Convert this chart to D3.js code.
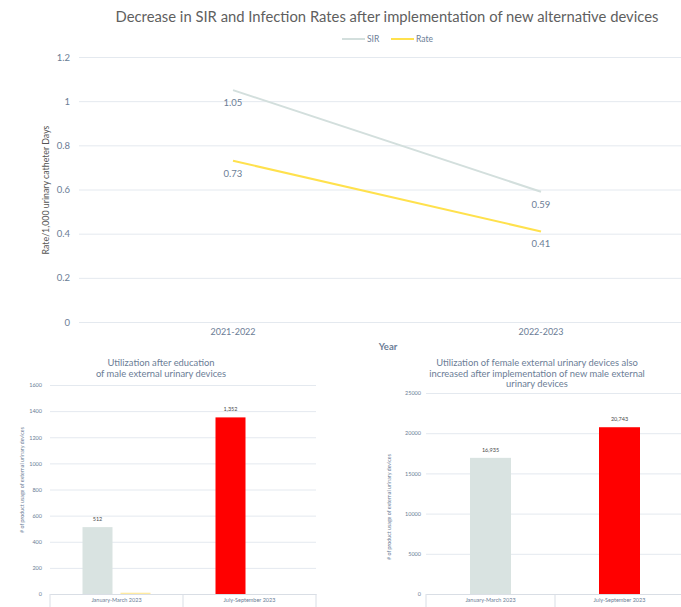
<!DOCTYPE html>
<html><head><meta charset="utf-8">
<script src="https://cdn.jsdelivr.net/npm/d3@7"></script>
<style>body{margin:0;background:#fff}svg{display:block}text{font-family:Lato,"Open Sans",sans-serif}</style>
</head><body><svg id="c" width="681" height="607"></svg>
<script>
// ---- Data ----
const years = ["2021-2022", "2022-2023"];
const sirValues = [1.05, 0.59];
const rateValues = [0.73, 0.41];
const mainYTicks = [0, 0.2, 0.4, 0.6, 0.8, 1, 1.2];

const quarters = ["January-March 2023", "July-September 2023"];
const maleUsage = [512, 1352];
const maleSecondary = [10, 0];
const maleYTicks = [0, 200, 400, 600, 800, 1000, 1200, 1400, 1600];

const femaleUsage = [16935, 20743];
const femaleYTicks = [0, 5000, 10000, 15000, 20000, 25000];

const barColors = ["#d9e3e1", "#ff0000"];
const sirColor = "#d3dfdd", rateColor = "#ffe14d";
const txt = "#6b7d96", grid = "#e4e9ef";

const svg = d3.select("#c");
const fmt = d3.format(",");

// ---- Main line chart ----
{
  const x = d3.scaleBand().domain(years).range([79, 695]);
  const y = d3.scaleLinear().domain([0, 1.2]).range([322, 57]);
  const g = svg.append("g");
  g.append("text").attr("x", 387).attr("y", 22).attr("text-anchor", "middle")
    .attr("font-size", 14.8).attr("fill", "#5f5f5f").text("Decrease in SIR and Infection Rates after implementation of new alternative devices");
  const yAx = g.append("g").attr("transform", "translate(79,0)")
    .call(d3.axisLeft(y).tickValues(mainYTicks).tickSize(-620).tickFormat(d => d === 0 || d === 1 ? d : d3.format(".1f")(d)));
  yAx.select(".domain").remove();
  yAx.selectAll(".tick line").attr("stroke", grid);
  yAx.selectAll(".tick text").attr("fill", txt).attr("font-size", 9.5).attr("x", -9);
  const xAx = g.append("g").attr("transform", "translate(0,322)")
    .call(d3.axisBottom(x).tickSize(0));
  xAx.select(".domain").remove();
  xAx.selectAll(".tick text").attr("fill", txt).attr("font-size", 9).attr("dy", "0.71em").attr("y", 7);
  g.append("text").attr("x", 388).attr("y", 350).attr("text-anchor", "middle")
    .attr("font-size", 9.5).attr("fill", txt).attr("font-weight", "bold").text("Year");
  g.append("text").attr("transform", "translate(49,190) rotate(-90)").attr("text-anchor", "middle")
    .attr("font-size", 8.8).attr("fill", "#555").text("Rate/1,000 urinary catheter Days");
  const line = d3.line().x((d, i) => x(years[i]) + x.bandwidth() / 2).y(d => y(d));
  [[sirValues, sirColor], [rateValues, rateColor]].forEach(([vals, col]) => {
    g.append("path").datum(vals).attr("d", line).attr("fill", "none").attr("stroke", col).attr("stroke-width", 2);
    g.selectAll(null).data(vals).enter().append("text")
      .attr("x", (d, i) => x(years[i]) + x.bandwidth() / 2).attr("y", d => y(d) + 16)
      .attr("text-anchor", "middle").attr("font-size", 9.5).attr("fill", txt).text(d => d);
  });
  // legend
  const leg = [["SIR", sirColor, 342], ["Rate", rateColor, 391]];
  leg.forEach(([name, col, lx]) => {
    g.append("line").attr("x1", lx).attr("x2", lx + 23).attr("y1", 39).attr("y2", 39).attr("stroke", col).attr("stroke-width", 2);
    g.append("text").attr("x", lx + 25).attr("y", 42).attr("font-size", 8.5).attr("fill", txt).text(name);
  });
}

// ---- Bar chart helper ----
function barChart(opts) {
  const g = svg.append("g");
  const x = d3.scaleBand().domain(quarters).range([opts.x0, opts.x1]);
  const y = d3.scaleLinear().domain([0, opts.ymax]).range([594, opts.ytop]);
  opts.title.forEach((t, i) => g.append("text").attr("x", opts.tx).attr("y", opts.ty + i * 10.5)
    .attr("text-anchor", "middle").attr("font-size", 9.4).attr("fill", txt).text(t));
  const yAx = g.append("g").attr("transform", `translate(${opts.x0},0)`)
    .call(d3.axisLeft(y).tickValues(opts.ticks).tickFormat(d => d).tickSize(-(opts.gx1 - opts.x0)));
  yAx.select(".domain").remove();
  yAx.selectAll(".tick line").attr("stroke", grid);
  yAx.selectAll(".tick text").attr("fill", txt).attr("font-size", 5.5).attr("x", -opts.tpad);
  const xAx = g.append("g").attr("transform", "translate(0,594)")
    .call(d3.axisBottom(x).tickSize(0));
  xAx.select(".domain").attr("stroke", "#d9dee5");
  xAx.selectAll(".tick text").attr("fill", txt).attr("font-size", 5.5).attr("y", 4);
  quarters.concat([null]).forEach((q, i) => {
    const xx = q ? x(q) : opts.x1;
    g.append("line").attr("x1", xx).attr("x2", xx).attr("y1", 594).attr("y2", 607).attr("stroke", "#d9dee5");
  });
  g.append("text").attr("transform", `translate(${opts.yx},${opts.yy}) rotate(-90)`).attr("text-anchor", "middle")
    .attr("font-size", 5.3).attr("fill", txt).text("# of product usage of external urinary devices");
  opts.series.forEach(s => {
    g.selectAll(null).data(s.values).enter().append("rect")
      .attr("x", (d, i) => x(quarters[i]) + x.bandwidth() / 2 + s.off - s.w / 2)
      .attr("width", s.w).attr("y", d => y(d)).attr("height", d => 594 - y(d))
      .attr("fill", (d, i) => s.colors[i]);
    if (s.labels) g.selectAll(null).data(s.values).enter().append("text")
      .attr("x", (d, i) => x(quarters[i]) + x.bandwidth() / 2 + s.off)
      .attr("y", d => y(d) - 6).attr("text-anchor", "middle").attr("font-size", 5.5).attr("fill", "#4a4a4a").text(d => fmt(d));
  });
}

barChart({
  x0: 50, x1: 316, gx1: 316, ymax: 1600, ytop: 385, ticks: maleYTicks, tpad: 8,
  title: ["Utilization after education", "of male external urinary devices"], tx: 161, ty: 366,
  yx: 24, yy: 480,
  series: [
    { values: maleUsage, colors: barColors, w: 30, off: -19, labels: true },
    { values: maleSecondary, colors: ["#ffeaa0", "#ffeaa0"], w: 30, off: 19, labels: false }
  ]
});

barChart({
  x0: 426, x1: 684, gx1: 684, ymax: 25000, ytop: 393, ticks: femaleYTicks, tpad: 5,
  title: ["Utilization of female external urinary devices also", "increased after implementation of new male external", "urinary devices"], tx: 537, ty: 366,
  yx: 391, yy: 507,
  series: [
    { values: femaleUsage, colors: barColors, w: 41, off: 0, labels: true }
  ]
});
</script></body></html>
